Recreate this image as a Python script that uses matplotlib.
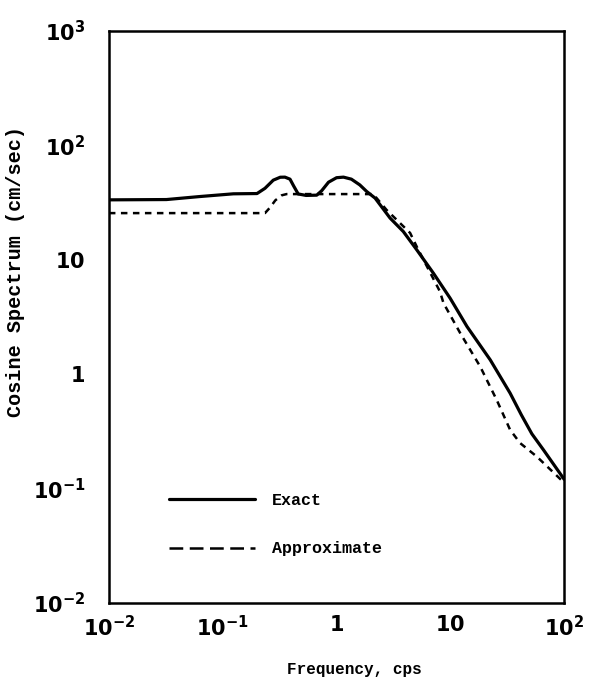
import numpy as np
import matplotlib
matplotlib.use("Agg")
import matplotlib.pyplot as plt

# values
exact_f = [0.01, 0.032, 0.063, 0.124, 0.2, 0.235, 0.278, 0.32, 0.352, 0.39, 0.42,
           0.46, 0.54, 0.67, 0.74, 0.85, 1.0, 1.15, 1.35, 1.6, 1.84, 2.18, 2.95,
           3.86, 5.06, 7.1, 9.95, 14.0, 22.4, 33.5, 42.0, 52.0, 65.8, 100.0]
exact_s = [33.3, 33.5, 35.6, 37.6, 37.8, 42.0, 49.5, 52.5, 52.6, 50.5, 44.0,
           37.5, 36.4, 36.6, 40.0, 47.5, 52.0, 52.6, 50.5, 45.0, 39.4, 34.5, 23.1,
           17.6, 12.2, 7.6, 4.6, 2.6, 1.33, 0.68, 0.44, 0.3, 0.217, 0.12]

approx_f = [0.01, 0.235, 0.26, 0.29, 0.33, 0.364, 2.1, 2.75, 4.43, 5.1, 8.1,
            8.7, 12.2, 18.3, 25.6, 33.5, 41.0, 57.4, 100.0]
approx_s = [25.5, 25.5, 28.5, 33.0, 36.5, 37.4, 37.4, 27.2, 17.1, 12.8, 5.26,
            4.17, 2.28, 1.16, 0.59, 0.325, 0.249, 0.19, 0.112]

x_ticks = [1e-2, 1e-1, 1, 10, 1e2]
x_labels = [r"$\mathbf{10^{-2}}$", r"$\mathbf{10^{-1}}$", r"$\mathbf{1}$",
            r"$\mathbf{10}$", r"$\mathbf{10^{2}}$"]
y_ticks = [1e-2, 1e-1, 1, 10, 1e2, 1e3]
y_labels = [r"$\mathbf{10^{-2}}$", r"$\mathbf{10^{-1}}$", r"$\mathbf{1}$",
            r"$\mathbf{10}$", r"$\mathbf{10^{2}}$", r"$\mathbf{10^{3}}$"]

mono = "Liberation Mono"

fig = plt.figure(figsize=(5.92, 6.85), dpi=100)
ax = fig.add_axes([0.184, 0.12, 0.769, 0.835])

ax.plot(exact_f, exact_s, color="black", lw=2.3, solid_capstyle="round",
        label="Exact")
ax.plot(approx_f, approx_s, color="black", lw=1.8, linestyle=(0, (2.6, 2.2)),
        label="Approximate")

ax.set_xscale("log")
ax.set_yscale("log")
ax.set_xlim(1e-2, 1e2)
ax.set_ylim(1e-2, 1e3)
ax.minorticks_off()
ax.set_xticks(x_ticks)
ax.set_xticklabels(x_labels)
ax.set_yticks(y_ticks)
ax.set_yticklabels(y_labels)
ax.tick_params(length=0, labelsize=15, pad=9)
ax.tick_params(axis="y", pad=17)
for sp in ax.spines.values():
    sp.set_linewidth(1.8)

ax.set_xlabel("Frequency, cps", fontfamily=mono, fontweight="bold", fontsize=11.5)
ax.xaxis.set_label_coords(0.54, -0.103)
ax.set_ylabel("Cosine Spectrum (cm/sec)", fontfamily=mono, fontweight="bold",
              fontsize=14.5)
ax.yaxis.set_label_coords(-0.185, 0.58)

leg = ax.legend(loc="upper left", bbox_to_anchor=(0.1, 0.218), frameon=False,
                handlelength=5.15, handletextpad=1.0, labelspacing=2.0,
                prop={"family": mono, "weight": "bold", "size": 12})
leg.get_lines()[1].set_linestyle((0, (5.5, 2.6)))

fig.savefig("out.png", dpi=100)
